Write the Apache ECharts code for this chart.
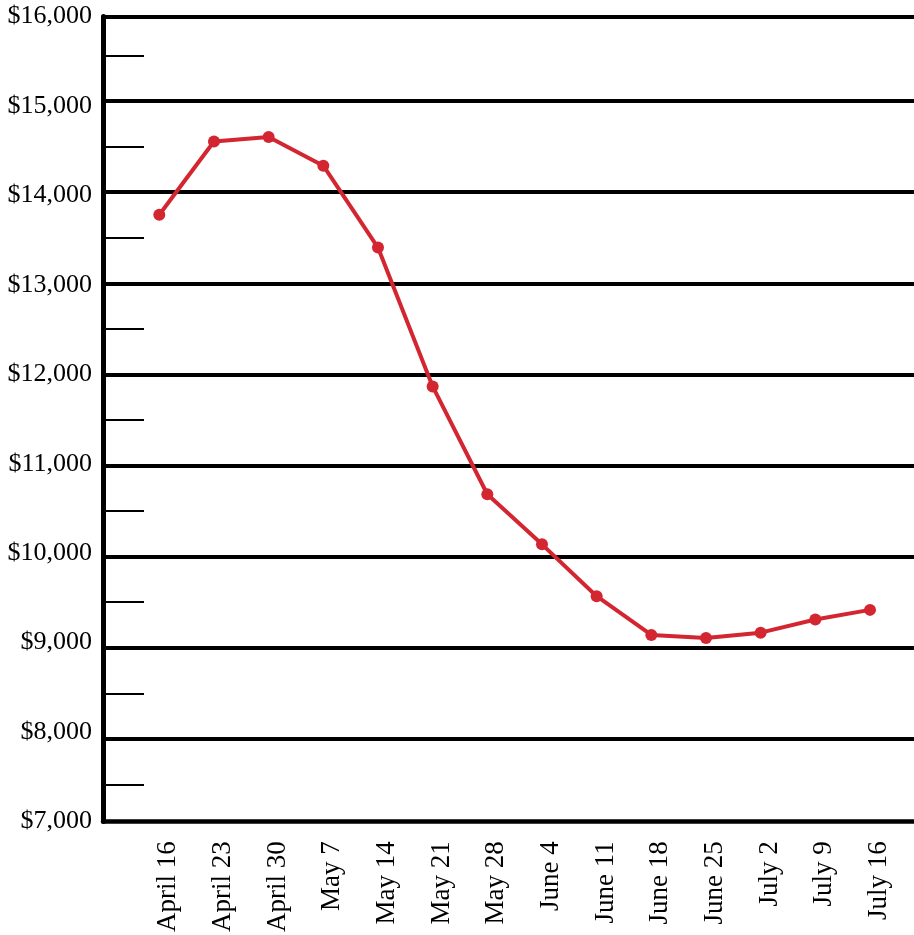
<!DOCTYPE html>
<html>
<head>
<meta charset="utf-8">
<script src="https://cdn.jsdelivr.net/npm/echarts@6/dist/echarts.min.js"></script>
<style>
html,body{margin:0;padding:0;background:#fff;}
#chart{width:914px;height:935px;}
</style>
</head>
<body>
<div id="chart"></div>
<script>
const categories = ['April 16','April 23','April 30','May 7','May 14','May 21','May 28','June 4','June 11','June 18','June 25','July 2','July 9','July 16'];
const values = [13750,14555,14605,14290,13390,11865,10680,10130,9560,9135,9100,9160,9305,9410];
const yMin = 7000;
const yMax = 16000;
const yStep = 1000;

const FONT = 'Liberation Serif, Times New Roman, serif';
const chart = echarts.init(document.getElementById('chart'), null, {renderer:'canvas'});
const fmt = v => '$' + v.toLocaleString('en-US');

chart.setOption({
  animation: false,
  backgroundColor: '#fff',
  grid: [
    {left: 103, right: 0, top: 16.5, bottom: 113.5},
    {left: 103, right: 0, top: 10, bottom: 105},
    {left: 159.3, right: 44, top: 10, bottom: 105}
  ],
  xAxis: [
    {gridIndex: 0, type: 'value', position: 'bottom', min: 0, max: 1,
     axisLine: {show: true, onZero: false, lineStyle: {color: '#000', width: 4.5}},
     axisTick: {show: false}, axisLabel: {show: false}, splitLine: {show: false}},
    {gridIndex: 0, type: 'value', position: 'top', min: 0, max: 1,
     axisLine: {show: true, onZero: false, lineStyle: {color: '#000', width: 4}},
     axisTick: {show: false}, axisLabel: {show: false}, splitLine: {show: false}},
    {gridIndex: 1, type: 'value', min: 0, max: 1, show: false},
    {gridIndex: 2, type: 'category', data: categories, boundaryGap: false,
     axisLine: {show: false}, axisTick: {show: false}, splitLine: {show: false},
     axisLabel: {rotate: 90, margin: 12, color: '#000', fontFamily: FONT, fontSize: 27, interval: 0,
                 verticalAlign: 'top', lineHeight: 18}}
  ],
  yAxis: [
    {gridIndex: 0, type: 'value', min: yMin, max: yMax, interval: yStep,
     axisLine: {show: true, lineStyle: {color: '#000', width: 5}},
     axisTick: {show: false}, splitLine: {show: false},
     axisLabel: {formatter: fmt, margin: 11, color: '#000', fontFamily: FONT, fontSize: 26}},
    {gridIndex: 1, type: 'value', min: yMin, max: yMax, interval: yStep,
     axisLine: {show: false}, axisLabel: {show: false},
     axisTick: {show: false, inside: true},
     minorTick: {show: true, splitNumber: 2, length: 41, lineStyle: {color: '#000', width: 2}},
     splitLine: {show: true, showMinLine: false, showMaxLine: false, lineStyle: {color: '#000', width: 4}}},
    {gridIndex: 2, type: 'value', min: yMin, max: yMax, interval: yStep, show: false}
  ],
  series: [{
    type: 'line',
    xAxisIndex: 3,
    yAxisIndex: 2,
    data: values,
    symbol: 'circle',
    symbolSize: 12,
    lineStyle: {color: '#d32630', width: 4},
    itemStyle: {color: '#d32630'}
  }]
});
</script>
</body>
</html>
